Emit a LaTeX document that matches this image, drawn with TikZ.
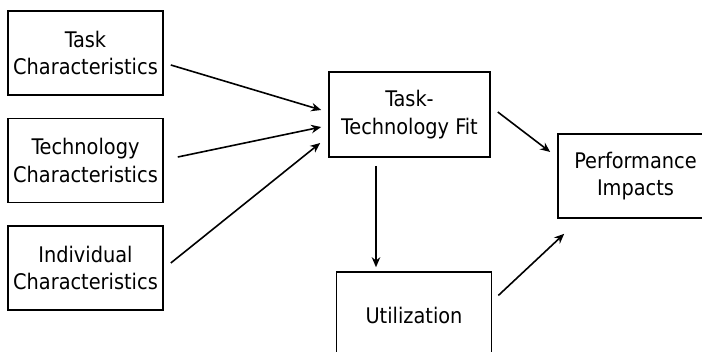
\documentclass[tikz,border=0pt]{standalone}
\usepackage{fontspec}
\setmainfont{DejaVu Sans Condensed}
\usetikzlibrary{arrows.meta}
\begin{document}
\begin{tikzpicture}[x=1pt,y=-1pt,
  box/.style={draw=black,line width=1.6pt,minimum width=155pt,minimum height=84pt,
    inner sep=0pt,align=center,font=\fontsize{21.5}{27.5}\selectfont},
  arr/.style={line width=1.6pt,-{Stealth[length=10pt,width=8.5pt]}}]
\clip (0,0) rectangle (702,352);
\fill[white] (0,0) rectangle (702,352);
\node[box] (task) at (85.5,53) {Task\\Characteristics};
\node[box] (tech) at (85.5,160.5) {Technology\\Characteristics};
\node[box] (indiv) at (85.5,268) {Individual\\Characteristics};
\node[box,minimum width=161pt,minimum height=85pt] (ttf) at (409.5,114.5) {Task-\\Technology Fit};
\node[box,minimum height=86pt] (util) at (414,315) {Utilization};
\node[box] (perf) at (635.5,176) {Performance\\Impacts};
\draw[arr] ([shift={(7,12)}]task.east) -- ([shift={(-7,-4.5)}]ttf.west);
\draw[arr] ([shift={(14,-3.5)}]tech.east) -- ([shift={(-7,12.5)}]ttf.west);
\draw[arr] ([shift={(7,-5)}]indiv.east) -- ([shift={(-8,28.5)}]ttf.west);
\draw[arr] ([shift={(-33.5,8)}]ttf.south) -- ([shift={(-38,-4)}]util.north);
\draw[arr] ([shift={(7,-2.5)}]ttf.east) -- ([shift={(-7,-24)}]perf.west);
\draw[arr] ([shift={(6,-19.5)}]util.east) -- ([shift={(7,15)}]perf.south west);
\end{tikzpicture}
\end{document}
